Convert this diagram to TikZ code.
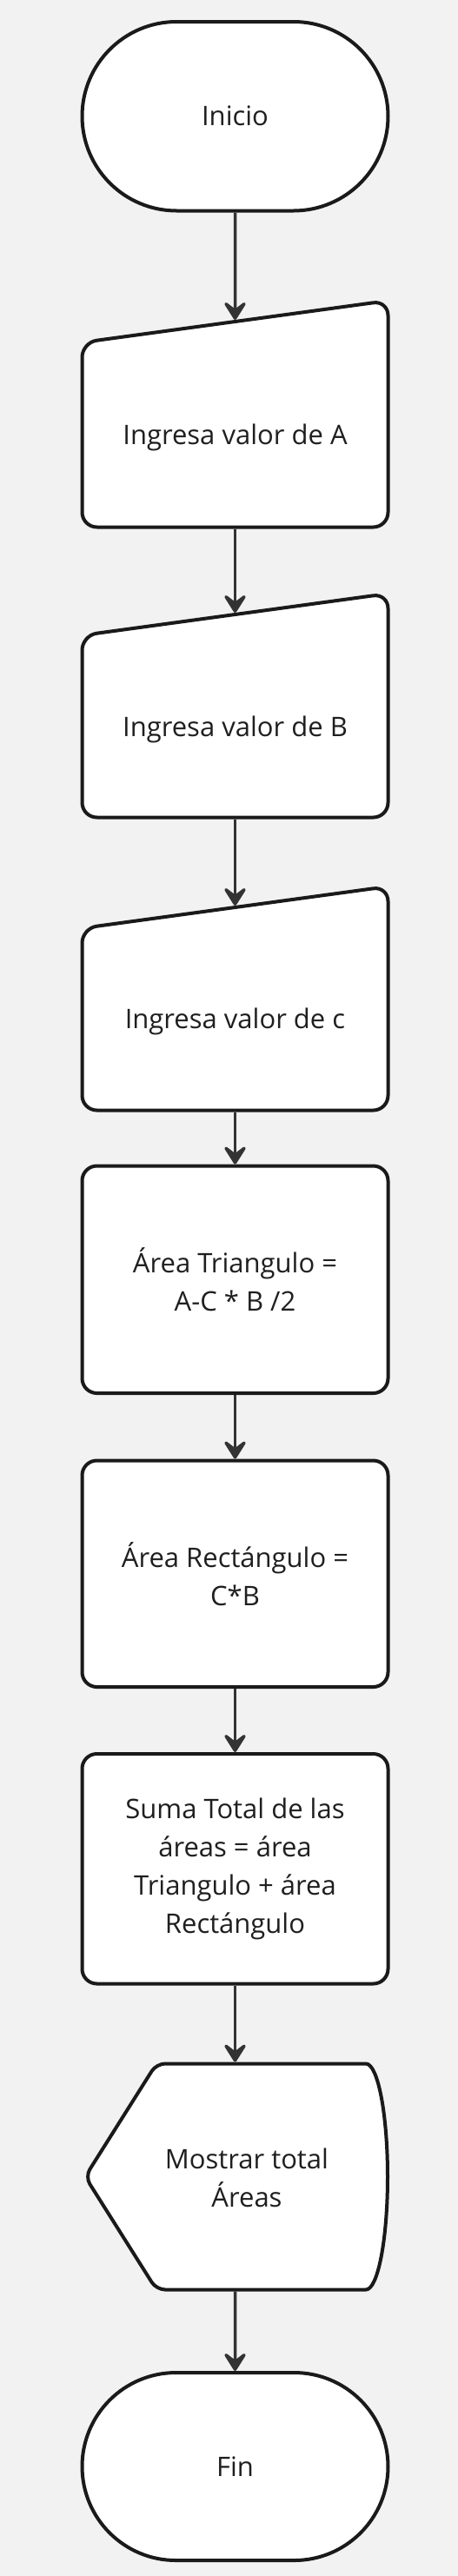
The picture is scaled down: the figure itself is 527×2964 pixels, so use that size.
\documentclass[tikz,border=0pt]{standalone}
\usepackage{fontspec}
\setmainfont{Open Sans}
\usetikzlibrary{shapes.misc,arrows.meta}
\definecolor{bg}{HTML}{F2F2F2}
\definecolor{edge}{HTML}{1A1A1A}
\definecolor{arr}{HTML}{333333}
\definecolor{txt}{HTML}{1F1F1F}
\begin{document}
\begin{tikzpicture}[x=1pt,y=-1pt,
  shapeline/.style={draw=edge, line width=4pt, fill=white},
  term/.style={shapeline, rounded rectangle, minimum width=352pt, inner sep=0pt},
  procbox/.style={shapeline, rectangle, rounded corners=17pt, minimum width=352pt, inner sep=0pt},
  txtlabel/.style={text=txt, font=\fontsize{31}{44}\selectfont, align=center, inner sep=0pt},
  flow/.style={draw=arr, line width=3.5pt, -{Stealth[length=27pt,width=34pt,inset=13pt,round]}}]
\fill[bg] (0,0) rectangle (527,2964);
\useasboundingbox (0,0) rectangle (527,2964);

% Inicio
\node[term, minimum height=217.5pt, txtlabel] (ini) at (270.5,133.75) {Inicio};

% Ingresa A
\draw[shapeline, rounded corners=17pt] (94.5,394) -- (446.5,346) -- (446.5,606.5) -- (94.5,606.5) -- cycle;
\node[txtlabel] (inA) at (270.5,503.5) {Ingresa valor de A};
\coordinate (aTop) at (270.5,368);
\coordinate (aBot) at (270.5,608.5);

% Ingresa B
\draw[shapeline, rounded corners=17pt] (94.5,731) -- (446.5,683) -- (446.5,940.5) -- (94.5,940.5) -- cycle;
\node[txtlabel] (inB) at (270.5,839) {Ingresa valor de B};
\coordinate (bTop) at (270.5,705);
\coordinate (bBot) at (270.5,942.5);

% Ingresa c
\draw[shapeline, rounded corners=17pt] (94.5,1068) -- (446.5,1020) -- (446.5,1277.5) -- (94.5,1277.5) -- cycle;
\node[txtlabel] (inC) at (270.5,1175.5) {Ingresa valor de c};
\coordinate (cTop) at (270.5,1042);
\coordinate (cBot) at (270.5,1279.5);

% Procesos
\node[procbox, minimum height=261.5pt, txtlabel] (tri) at (270.5,1472.25) {Área Triangulo =\\A-C * B /2};
\node[procbox, minimum height=260.5pt, txtlabel] (rec) at (270.5,1810.75) {Área Rectángulo =\\C*B};
\node[procbox, minimum height=264.5pt, txtlabel] (suma) at (270.5,2150.25) {Suma Total de las\\áreas = área\\Triangulo + área\\Rectángulo};

% Mostrar
\draw[shapeline] (421,2374.5) arc[start angle=-90, end angle=90, x radius=25, y radius=130]
  [rounded corners=10pt] -- (180,2634.5) -- (98,2504.5) -- (180,2374.5) [sharp corners] -- cycle;
\node[txtlabel] (mos) at (284,2506) {Mostrar total\\Áreas};
\coordinate (oTop) at (270.5,2372.5);
\coordinate (oBot) at (270.5,2636.5);

% Fin
\node[term, minimum height=216pt, txtlabel] (fin) at (270.5,2838) {Fin};

% Conectores
\draw[flow] (ini) -- (aTop);
\draw[flow] (aBot) -- (bTop);
\draw[flow] (bBot) -- (cTop);
\draw[flow] (cBot) -- (tri);
\draw[flow] (tri) -- (rec);
\draw[flow] (rec) -- (suma);
\draw[flow] (suma) -- (oTop);
\draw[flow] (oBot) -- (fin);
\end{tikzpicture}
\end{document}
